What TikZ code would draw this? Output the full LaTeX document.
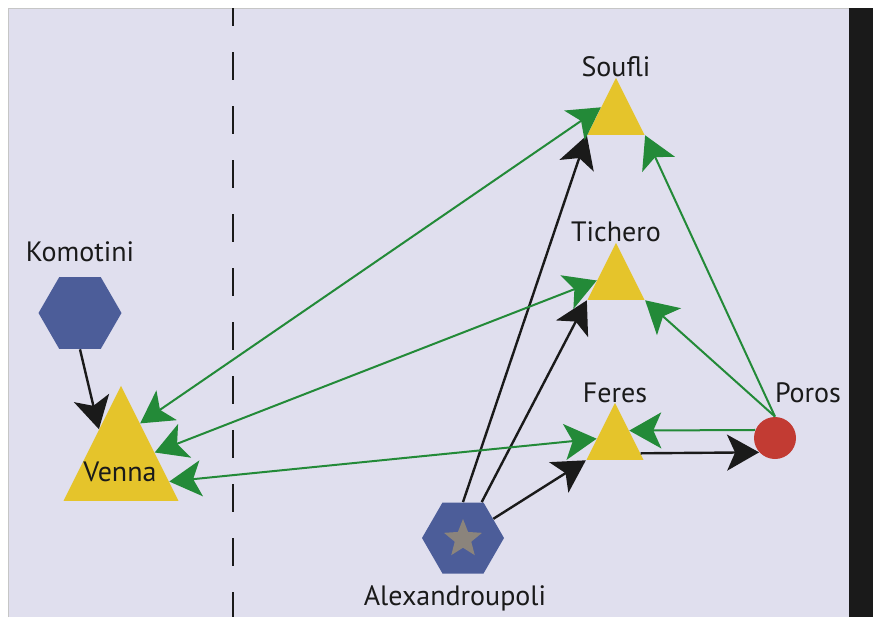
\documentclass[tikz,border=0pt]{standalone}
\usepackage{fontspec}
\setmainfont{PT Sans}
\usetikzlibrary{shapes.geometric, arrows.meta, calc}

\definecolor{panelbg}{RGB}{224,223,238}
\definecolor{hexblue}{RGB}{76,93,153}
\definecolor{townyellow}{RGB}{229,196,43}
\definecolor{hubred}{RGB}{194,59,51}
\definecolor{flowgreen}{RGB}{35,138,56}
\definecolor{inkblack}{RGB}{26,26,26}
\definecolor{stargray}{RGB}{139,132,124}

\begin{document}
\begin{tikzpicture}[x=0.5pt, y=-0.5pt,
    city/.style={regular polygon, regular polygon sides=6, minimum size=41.5pt,
                 inner sep=0pt, fill=hexblue},
    town/.style={isosceles triangle, isosceles triangle apex angle=53.13,
                 shape border rotate=90, minimum width=28.5pt, minimum height=28.5pt,
                 inner sep=0pt, fill=townyellow, anchor=apex},
    hub/.style={circle, minimum size=21pt, inner sep=0pt, fill=hubred},
    placename/.style={font=\fontsize{14}{17}\selectfont, text=inkblack},
    link/.style={-{Stealth[length=16pt, width=18pt, inset=4pt]}, line width=1.2pt, inkblack},
    flow/.style={-{Stealth[length=16pt, width=18pt, inset=4pt]}, line width=1pt, flowgreen},
    flowboth/.style={{Stealth[length=16pt, width=18pt, inset=4pt]}-{Stealth[length=16pt, width=18pt, inset=4pt]},
                     line width=1pt, flowgreen}]

    \useasboundingbox (0,0) rectangle (873,617);

    % panel and border
    \fill[panelbg] (8,8) rectangle (849,617);
    \draw[gray!45, line width=0.5pt] (8,617) -- (8,8) -- (849,8);
    \fill[inkblack] (849,8) rectangle (873,617);
    \draw[inkblack, line width=1pt, dash pattern=on 14pt off 13pt, dash phase=5pt] (233,8) -- (233,617);

    % cities
    \node[city] (komotini) at (80,313) {};
    \node[city, minimum size=41pt] (alex) at (463,538) {};
    \node[star, star points=5, star point ratio=2.3, minimum size=20pt,
          inner sep=0pt, fill=stargray] (alexstar) at (463,539) {};

    % towns
    \node[town, minimum width=57.5pt, minimum height=57.5pt] (venna) at (121,385) {};
    \node[town] (soufli) at (616,77) {};
    \node[town] (tichero) at (616,242) {};
    \node[town] (feres) at (615,402) {};
    \node[hub] (poros) at (775,438) {};

    % names
    \node[placename] at (80,252) {Komotini};
    \node[placename] at (120,472) {Venna};
    \node[placename] at (616,67) {Soufli};
    \node[placename] at (616,232) {Tichero};
    \node[placename] at (615,393) {Feres};
    \node[placename] at (808,393) {Poros};
    \node[placename] at (455,598) {Alexandroupoli};

    % black links
    \draw[link] (komotini.south) -- ($(venna.apex)!0.38!(venna.left corner)$);
    \draw[link] (alex.north) -- (soufli.left corner);
    \draw[link] (alex) -- (tichero.left corner);
    \draw[link] (alex) -- (feres.left corner);
    \draw[link] ($(feres.apex)!0.88!(feres.right corner)$) -- (poros.222);

    % green flows
    \draw[flow] (poros.north) -- (soufli.right corner);
    \draw[flow] (poros.north) -- (tichero.right corner);
    \draw[flow] (poros.158) -- ($(feres.apex)!0.49!(feres.right corner)$);
    \draw[flowboth] ($(venna.apex)!0.33!(venna.right corner)$) -- ($(soufli.apex)!0.52!(soufli.left corner)$);
    \draw[flowboth] ($(venna.apex)!0.58!(venna.right corner)$) -- ($(tichero.apex)!0.66!(tichero.left corner)$);
    \draw[flowboth] ($(venna.apex)!0.83!(venna.right corner)$) -- ($(feres.apex)!0.63!(feres.left corner)$);

\end{tikzpicture}
\end{document}
